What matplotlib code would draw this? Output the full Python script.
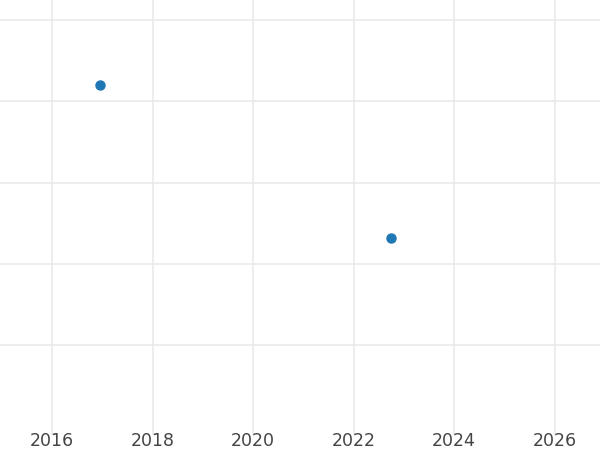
import datetime as dt
import matplotlib.pyplot as plt
import matplotlib.dates as mdates

# Données
dates = [dt.date(2016, 12, 15), dt.date(2022, 9, 29)]
values = [42.0, 23.2]
year_ticks = [2016, 2018, 2020, 2022, 2024, 2026]
y_ticks = [10, 20, 30, 40, 50]

fig = plt.figure(figsize=(6, 4.5), dpi=100)
ax = fig.add_axes([0, 15 / 450, 1, 435 / 450])

ax.plot(dates, values, 'o', color='#1f77b4', markersize=6.5, zorder=3)

ax.set_xlim(dt.date(2014, 12, 20), dt.date(2026, 11, 26))
ax.set_ylim(-1.1, 52.5)
ax.set_xticks([dt.date(y, 1, 1) for y in year_ticks])
ax.xaxis.set_major_formatter(mdates.DateFormatter('%Y'))
ax.set_yticks(y_ticks)
ax.set_yticklabels([])

ax.grid(True, color='#e8e8e8', linewidth=1.1)
ax.set_axisbelow(True)
for s in ax.spines.values():
    s.set_visible(False)
ax.tick_params(axis='both', length=0)
ax.tick_params(axis='x', pad=-2.5, labelsize=12.5, labelcolor='#444444')

fig.savefig('out.png', dpi=100)
